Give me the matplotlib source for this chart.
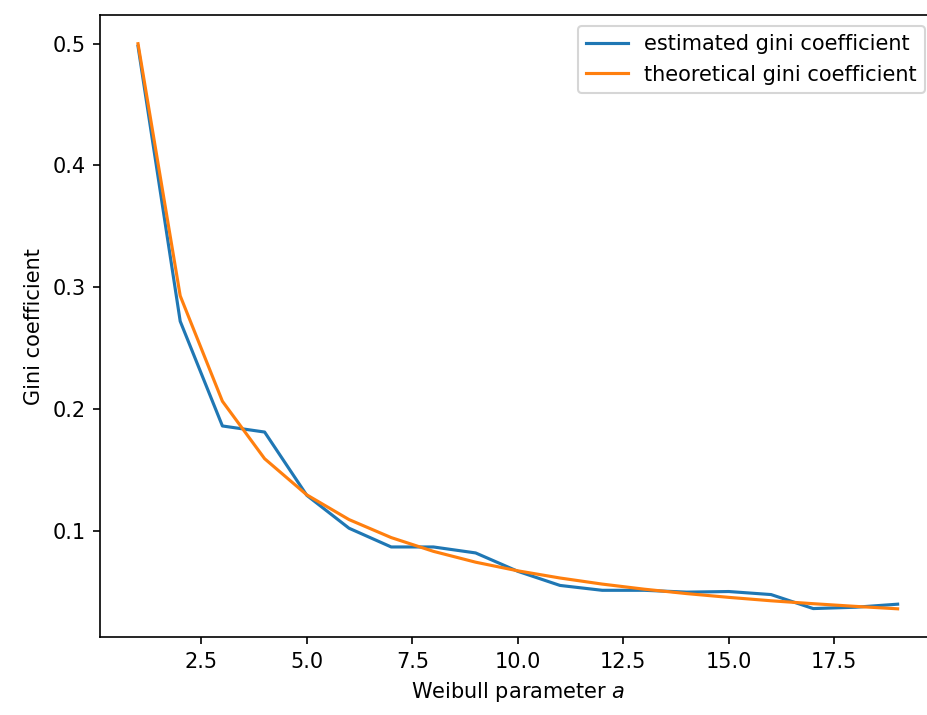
import matplotlib
matplotlib.use("Agg")
import matplotlib.pyplot as plt

a_values = list(range(1, 20))
estimated_gini = [0.498, 0.272, 0.186, 0.181, 0.129, 0.102, 0.0866, 0.0866, 0.0817,
                  0.0666, 0.055, 0.051, 0.051, 0.0495, 0.050, 0.0475, 0.036, 0.0371, 0.0396]
theoretical_gini = [0.5, 0.2929, 0.2063, 0.1591, 0.1294, 0.1091, 0.0943, 0.0830, 0.0741,
                    0.0670, 0.0611, 0.0561, 0.0519, 0.0483, 0.0452, 0.0424, 0.0400, 0.0378, 0.0358]

dpi = 150
fig = plt.figure(figsize=(927 / dpi, 715 / dpi), dpi=dpi)
ax = fig.add_axes([0.1079, 0.109, 0.9014, 0.8694])
ax.plot(a_values, estimated_gini, label="estimated gini coefficient")
ax.plot(a_values, theoretical_gini, label="theoretical gini coefficient")
ax.set_xlabel("Weibull parameter $a$")
ax.set_ylabel("Gini coefficient")
ax.legend(loc="upper right")
fig.savefig("out.png", dpi=dpi)
